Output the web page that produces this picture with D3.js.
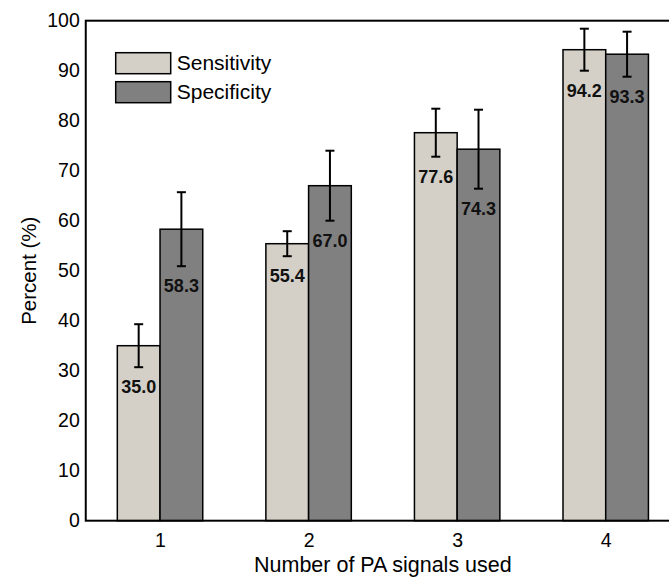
<!DOCTYPE html>
<html>
<head>
<meta charset="utf-8">
<script src="https://cdn.jsdelivr.net/npm/d3@7"></script>
<style>
  html, body { margin: 0; padding: 0; background: #fff; }
  svg { display: block; font-family: "Liberation Sans", Arial, Helvetica, sans-serif; }
</style>
</head>
<body>
<div id="chart"></div>
<script>
// data
const groups = [1, 2, 3, 4];
const seriesNames = ["Sensitivity", "Specificity"];
const sensitivity = [35.0, 55.4, 77.6, 94.2];
const specificity = [58.3, 67.0, 74.3, 93.3];
const sensitivityErr = [4.3, 2.5, 4.8, 4.2];
const specificityErr = [7.4, 7.0, 7.9, 4.5];
const yTicks = [0, 10, 20, 30, 40, 50, 60, 70, 80, 90, 100];
const colors = ["#d4d0c8", "#808080"];

const width = 669, height = 577;
const margin = { top: 20.7, left: 85.75 };
const plotRight = 680, plotBottom = 520.7;

const svg = d3.select("#chart")
  .append("svg")
  .attr("width", width)
  .attr("height", height);

const x = d3.scaleLinear().domain([0.5, 4.5]).range([margin.left, plotRight]);
const y = d3.scaleLinear().domain([0, 100]).range([plotBottom, margin.top]);
const barW = 0.2875; // bar width in x units

const rows = [];
groups.forEach((g, i) => {
  rows.push({ g, s: 0, v: sensitivity[i], e: sensitivityErr[i] });
  rows.push({ g, s: 1, v: specificity[i], e: specificityErr[i] });
});

// bars
svg.append("g")
  .selectAll("rect")
  .data(rows)
  .join("rect")
  .attr("x", d => x(d.s === 0 ? d.g - barW : d.g))
  .attr("y", d => y(d.v))
  .attr("width", x(1 + barW) - x(1))
  .attr("height", d => y(0) - y(d.v))
  .attr("fill", d => colors[d.s])
  .attr("stroke", "#000")
  .attr("stroke-width", 1.5);

// error bars
const cx = d => x(d.s === 0 ? d.g - barW / 2 : d.g + barW / 2);
const eb = svg.append("g").attr("stroke", "#000").attr("stroke-width", 2);
eb.selectAll("line.v")
  .data(rows)
  .join("line")
  .attr("class", "v")
  .attr("x1", cx).attr("x2", cx)
  .attr("y1", d => y(d.v - d.e))
  .attr("y2", d => y(d.v + d.e));
[1, -1].forEach(sign => {
  eb.selectAll("line.c" + (sign > 0 ? "t" : "b"))
    .data(rows)
    .join("line")
    .attr("class", "c" + (sign > 0 ? "t" : "b"))
    .attr("x1", d => cx(d) - 4.5).attr("x2", d => cx(d) + 4.5)
    .attr("y1", d => y(d.v + sign * d.e))
    .attr("y2", d => y(d.v + sign * d.e));
});

// value labels
svg.append("g")
  .selectAll("text")
  .data(rows)
  .join("text")
  .attr("x", cx)
  .attr("y", d => y(d.v - d.e) + 26)
  .attr("text-anchor", "middle")
  .attr("font-size", 18)
  .attr("font-weight", "bold")
  .attr("fill", "#111")
  .text(d => d.v.toFixed(1));

// axes
svg.append("g")
  .attr("transform", `translate(${margin.left},0)`)
  .call(d3.axisLeft(y).tickValues(yTicks).tickSize(0).tickPadding(6))
  .call(g => g.select(".domain").remove())
  .selectAll("text")
  .attr("font-size", 19.5)
  .attr("font-family", "Liberation Sans, Arial, sans-serif")
  .attr("fill", "#000");

svg.append("g")
  .attr("transform", `translate(0,${plotBottom})`)
  .call(d3.axisBottom(x).tickValues(groups).tickFormat(d3.format("d")).tickSize(0).tickPadding(12))
  .call(g => g.select(".domain").remove())
  .selectAll("text")
  .attr("font-size", 19.5)
  .attr("font-family", "Liberation Sans, Arial, sans-serif")
  .attr("fill", "#000");

// frame
svg.append("rect")
  .attr("x", margin.left)
  .attr("y", margin.top)
  .attr("width", plotRight - margin.left)
  .attr("height", plotBottom - margin.top)
  .attr("fill", "none")
  .attr("stroke", "#000")
  .attr("stroke-width", 2);

// axis titles
svg.append("text")
  .attr("x", (margin.left + plotRight) / 2)
  .attr("y", 572)
  .attr("text-anchor", "middle")
  .attr("font-size", 21.5)
  .text("Number of PA signals used");

svg.append("text")
  .attr("transform", `translate(36,${(margin.top + plotBottom) / 2}) rotate(-90)`)
  .attr("text-anchor", "middle")
  .attr("font-size", 20.5)
  .text("Percent (%)");

// legend
const legend = svg.append("g")
  .selectAll("g")
  .data(seriesNames)
  .join("g")
  .attr("transform", (d, i) => `translate(115.7,${52.7 + i * 29})`);
legend.append("rect")
  .attr("width", 55)
  .attr("height", 21)
  .attr("fill", (d, i) => colors[i])
  .attr("stroke", "#000")
  .attr("stroke-width", 1.5);
legend.append("text")
  .attr("x", 61)
  .attr("y", 17.5)
  .attr("font-size", 21)
  .text(d => d);
</script>
</body>
</html>
